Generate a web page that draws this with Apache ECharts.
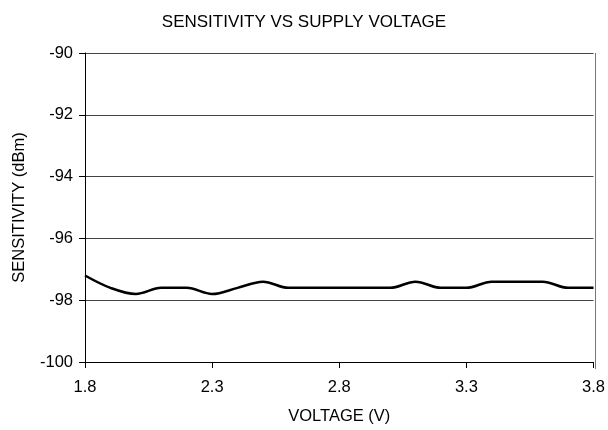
<!DOCTYPE html>
<html>
<head>
<meta charset="utf-8">
<script src="https://cdn.jsdelivr.net/npm/echarts@6/dist/echarts.min.js"></script>
<style>
  html, body { margin: 0; padding: 0; background: #fff; }
  #chart { width: 608px; height: 430px; }
</style>
</head>
<body>
<div id="chart"></div>
<script>
// 电压 (V)
const voltages = ['1.8', '1.9', '2.0', '2.1', '2.2', '2.3', '2.4', '2.5', '2.6', '2.7', '2.8',
  '2.9', '3.0', '3.1', '3.2', '3.3', '3.4', '3.5', '3.6', '3.7', '3.8'];
// 灵敏度 (dBm)
const sensitivity = [-97.2, -97.6, -97.8, -97.6, -97.6, -97.8, -97.6, -97.4, -97.6, -97.6, -97.6,
  -97.6, -97.6, -97.4, -97.6, -97.6, -97.4, -97.4, -97.4, -97.6, -97.6];

const font = 'Liberation Sans, Arial, sans-serif';

let myChart = echarts.init(document.getElementById('chart'));
let option = {
  animation: false,
  title: {
    text: 'SENSITIVITY VS SUPPLY VOLTAGE',
    left: 'center',
    top: 9,
    textStyle: { fontFamily: font, fontSize: 17, fontWeight: 'normal', color: '#000' }
  },
  grid: { left: 85, right: 13, top: 53, bottom: 61 },
  xAxis: {
    type: 'category',
    data: voltages,
    boundaryGap: false,
    name: 'VOLTAGE (V)',
    nameLocation: 'middle',
    nameGap: 46,
    nameTextStyle: { fontFamily: font, fontSize: 16.5, color: '#000' },
    axisLine: { lineStyle: { color: '#000', width: 1 } },
    axisTick: { show: true, interval: 4, length: 6, lineStyle: { color: '#000' } },
    axisLabel: { interval: 4, margin: 17, fontFamily: font, fontSize: 16.5, color: '#000' },
    splitLine: { show: false }
  },
  yAxis: {
    type: 'value',
    min: -100,
    max: -90,
    interval: 2,
    name: 'SENSITIVITY (dBm)',
    nameLocation: 'middle',
    nameGap: 57,
    nameTextStyle: { fontFamily: font, fontSize: 16.5, color: '#000' },
    axisLine: { show: true, lineStyle: { color: '#000', width: 1 } },
    axisTick: { show: true, length: 6, lineStyle: { color: '#000' } },
    axisLabel: { margin: 12, fontFamily: font, fontSize: 16.5, color: '#000' },
    splitLine: { show: true, lineStyle: { color: '#444', width: 1 } }
  },
  graphic: [
    {
      // 右边框
      type: 'line',
      shape: { x1: 595.5, y1: 53, x2: 595.5, y2: 369 },
      style: { stroke: '#777', lineWidth: 1 }
    }
  ],
  series: [
    {
      type: 'line',
      data: sensitivity,
      smooth: 0.35,
      symbol: 'none',
      lineStyle: { color: '#000', width: 2.5 }
    }
  ]
};
myChart.setOption(option);
</script>
</body>
</html>
